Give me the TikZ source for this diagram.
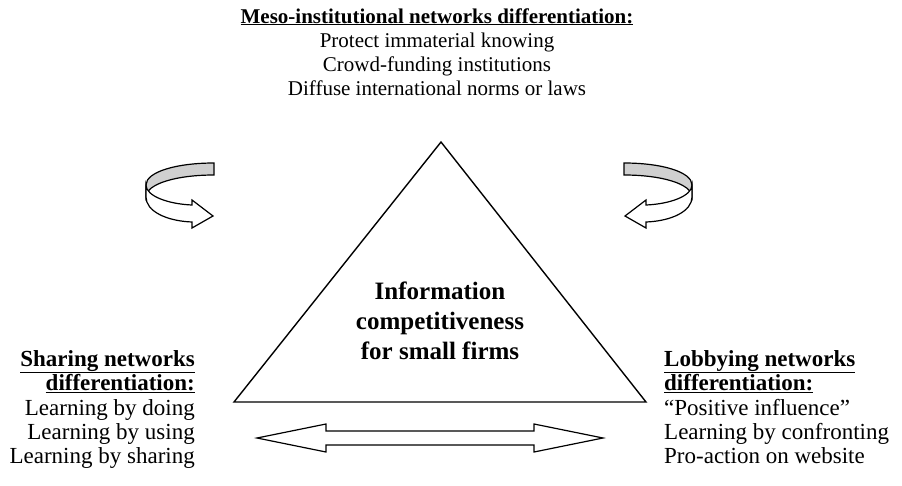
\documentclass[tikz,border=0pt]{standalone}
\usepackage{fontspec}
\setmainfont{Liberation Serif}
\definecolor{ribbongrey}{RGB}{208,208,208}
\tikzset{
  toptext/.style={anchor=base, inner sep=0pt, font=\fontsize{21}{25}\selectfont},
  sidetext/.style={inner sep=0pt, font=\fontsize{23}{24}\selectfont},
  coretext/.style={anchor=base, inner sep=0pt, font=\bfseries\fontsize{25}{30}\selectfont},
  outline/.style={draw=black, line width=1.2pt, line join=miter},
  pics/curvarrow/.style={code={
    \filldraw[outline, fill=ribbongrey]
      (214,163) .. controls (176,163) and (146,172) .. (146,185)
      -- (146,197) .. controls (146,184) and (176,175) .. (214,175) -- cycle;
    \filldraw[outline, fill=white]
      (146,185) .. controls (146,196) and (168,204) .. (192,205)
      -- (192,200) -- (213,216) -- (192,228) -- (192,222)
      .. controls (166,221) and (146,211) .. (146,197) -- cycle;
  }}
}
\begin{document}
\begin{tikzpicture}[x=1pt,y=-1pt]
\useasboundingbox (0,0) rectangle (902,485);

% triangle
\coordinate (apex) at (441,142);
\coordinate (bl) at (234,402);
\coordinate (br) at (646,402);
\draw[line width=1.4pt, line join=miter] (apex) -- (bl) -- (br) -- cycle;

% centre text
\node[coretext] (c1) at (440,299) {Information};
\node[coretext] (c2) at (440,329) {competitiveness};
\node[coretext] (c3) at (440,359) {for small firms};

% top block
\node[toptext] (m0) at (437,23) {\bfseries\underline{Meso-institutional networks differentiation:}};
\node[toptext] (m1) at (437,47) {Protect immaterial knowing};
\node[toptext] (m2) at (437,71) {Crowd-funding institutions};
\node[toptext] (m3) at (437,95) {Diffuse international norms or laws};

% left block
\node[sidetext, anchor=base east] (s0) at (195,366) {\bfseries\underline{Sharing networks}};
\node[sidetext, anchor=base east] (s1) at (195,390) {\bfseries\underline{differentiation:}};
\node[sidetext, anchor=base east] (s2) at (195,415) {Learning by doing};
\node[sidetext, anchor=base east] (s3) at (195,439) {Learning by using};
\node[sidetext, anchor=base east] (s4) at (195,463) {Learning by sharing};

% right block
\node[sidetext, anchor=base west] (l0) at (664,366) {\bfseries\underline{Lobbying networks}};
\node[sidetext, anchor=base west] (l1) at (664,390) {\bfseries\underline{differentiation:}};
\node[sidetext, anchor=base west] (l2) at (664,415) {“Positive influence”};
\node[sidetext, anchor=base west] (l3) at (664,439) {Learning by confronting};
\node[sidetext, anchor=base west] (l4) at (664,463) {Pro-action on website};

% curved ribbon arrows
\pic at (0,0) {curvarrow};
\pic[xscale=-1] at (838,0) {curvarrow};

% double arrow
\filldraw[outline, fill=white]
  (257,438) -- (326,424) -- (326,431) -- (534,431) -- (534,424) -- (603,438)
  -- (534,452) -- (534,445) -- (326,445) -- (326,452) -- cycle;
\end{tikzpicture}
\end{document}
